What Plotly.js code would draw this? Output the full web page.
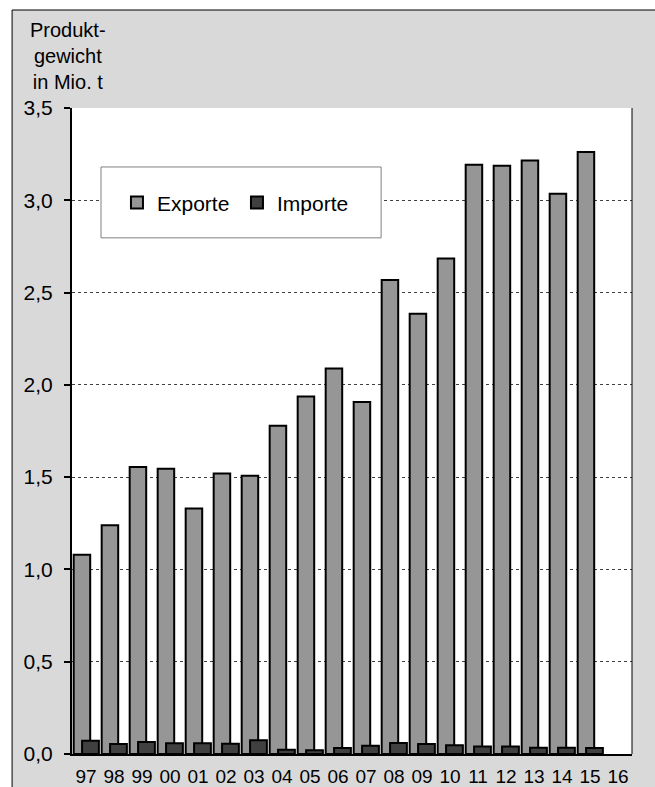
<!DOCTYPE html>
<html>
<head>
<meta charset="utf-8">
<script src="https://cdn.plot.ly/plotly-3.0.1.min.js"></script>
<style>html,body{margin:0;padding:0;background:#fff;}#chart{width:655px;height:787px;}</style>
</head>
<body>
<div id="chart"></div>
<script>
var years = ["97","98","99","00","01","02","03","04","05","06","07","08","09","10","11","12","13","14","15","16"];
var exporte = [1.08,1.24,1.555,1.545,1.33,1.52,1.508,1.778,1.937,2.089,1.907,2.568,2.385,2.685,3.192,3.187,3.216,3.035,3.262,null];
var importe = [0.072,0.054,0.065,0.058,0.058,0.056,0.074,0.023,0.02,0.032,0.045,0.06,0.054,0.047,0.04,0.04,0.034,0.034,0.032,null];
var yTitle = "Produkt-<br>gewicht<br>in Mio. t";

var FONT = "Arial, 'Liberation Sans', sans-serif";
var traces = [
  {type:"bar", name:"Exporte", x:years, y:exporte, width:0.59, offset:-0.44,
   marker:{color:"#969696", line:{color:"#000", width:2}}, hoverinfo:"x+y"},
  {type:"bar", name:"Importe", x:years, y:importe, width:0.6, offset:-0.14,
   marker:{color:"#404040", line:{color:"#000", width:2}}, hoverinfo:"x+y"}
];
var layout = {
  width:655, height:787,
  margin:{l:72, r:23, t:108, b:33, pad:0},
  paper_bgcolor:"#ffffff",
  plot_bgcolor:"rgba(0,0,0,0)",
  separators:",.",
  font:{family:FONT, size:21, color:"#000"},
  barmode:"overlay",
  showlegend:true,
  legend:{orientation:"h", x:0.0803, xanchor:"left", y:0.853, yanchor:"middle",
          bgcolor:"rgba(0,0,0,0)", borderwidth:0, font:{family:FONT, size:21, color:"#000"},
          traceorder:"normal", entrywidth:75},
  xaxis:{type:"category", categoryorder:"array", categoryarray:years, range:[-0.5,19.5],
         showline:true, linecolor:"#000", linewidth:2, ticks:"", showgrid:false, ticklabelstandoff:4,
         tickfont:{family:FONT, size:19, color:"#000"}, fixedrange:true, zeroline:false},
  yaxis:{range:[0,3.5], dtick:0.5, tick0:0, tickformat:".1f", showline:true, linecolor:"#000", linewidth:2,
         ticks:"outside", ticklen:6, tickwidth:2, tickcolor:"#000", ticklabelstandoff:7,
         showgrid:true, gridcolor:"#404040", gridwidth:1, griddash:"dot", zeroline:false,
         tickfont:{family:FONT, size:21, color:"#000"}, fixedrange:true},
  shapes:[
    {type:"rect", xref:"paper", yref:"paper", x0:-0.107, x1:1.6, y0:-0.5, y1:1.1517,
     fillcolor:"#d9d9d9", line:{color:"#000", width:1}, layer:"below"},
    {type:"rect", xref:"paper", yref:"paper", x0:0, x1:1, y0:0, y1:1,
     fillcolor:"#ffffff", line:{width:0}, layer:"below"},
    {type:"line", xref:"paper", yref:"paper", x0:1, x1:1, y0:0, y1:1,
     line:{color:"#000", width:1}, layer:"above"},
    {type:"rect", xref:"paper", yref:"paper", x0:0.0518, x1:0.552, y0:0.799, y1:0.9087,
     fillcolor:"#ffffff", line:{color:"#808080", width:1}, layer:"above"}
  ],
  annotations:[
    {text:yTitle, xref:"paper", yref:"paper", x:-0.007, y:1.1409, xanchor:"center", yanchor:"top",
     showarrow:false, align:"center", font:{family:FONT, size:20, color:"#000"}}
  ]
};
Plotly.newPlot("chart", traces, layout, {displayModeBar:false, staticPlot:true});
</script>
</body>
</html>
